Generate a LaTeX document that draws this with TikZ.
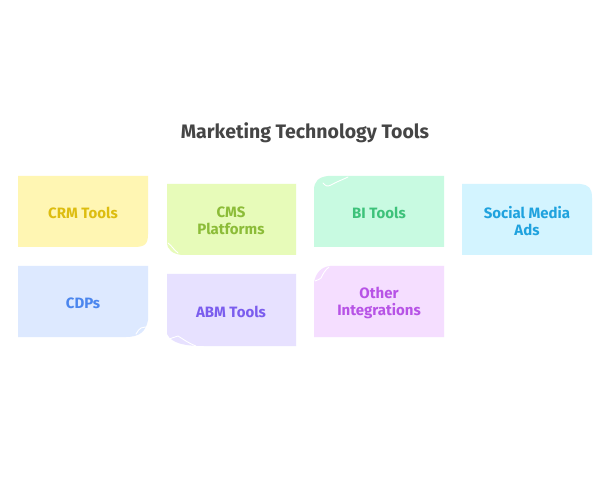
\documentclass[tikz,border=0pt]{standalone}
\usepackage{fontspec}
\setmainfont{Fira Sans}
\usetikzlibrary{positioning}
\definecolor{crmfill}{HTML}{FFF6B3}
\definecolor{crmtext}{HTML}{DDBD10}
\definecolor{cmsfill}{HTML}{E7FBB9}
\definecolor{cmstext}{HTML}{8CBC38}
\definecolor{bifill}{HTML}{C8FAE1}
\definecolor{bitext}{HTML}{3DC27A}
\definecolor{socfill}{HTML}{D3F4FF}
\definecolor{soctext}{HTML}{1FA2DE}
\definecolor{cdpfill}{HTML}{DDE9FF}
\definecolor{cdptext}{HTML}{4B86EE}
\definecolor{abmfill}{HTML}{E7E1FF}
\definecolor{abmtext}{HTML}{7B5DEE}
\definecolor{othfill}{HTML}{F5DEFF}
\definecolor{othtext}{HTML}{B753E6}
\definecolor{titletext}{HTML}{454545}
\tikzset{
  notelabel/.style={font=\bfseries\fontsize{15}{16.5}\selectfont, align=center},
  curl/.style={draw=white, line width=0.9pt, line cap=round}
}
\begin{document}
\begin{tikzpicture}[x=1pt,y=-1pt]
\useasboundingbox[fill=white] (0,0) rectangle (613,486);
% Title
\node[font=\bfseries\fontsize{19.5}{22}\selectfont, text=titletext] (title) at (305,132.5) {Marketing Technology Tools};
% Row 1: CRM Tools
\fill[crmfill] (18,176) -- (148,176) -- (148,234) .. controls (148,244) and (145,247) .. (134,247) -- (18,247) -- cycle;
\node[notelabel, text=crmtext] (crm) at (83,213) {CRM Tools};
% Row 1: CMS Platforms
\fill[cmsfill] (167,184) -- (296,184) -- (296,255) -- (182,255) .. controls (173,254) and (167,250) .. (167,242) -- cycle;
\draw[curl] (168,243) .. controls (172,246) and (173,249) .. (178,253);
\node[notelabel, text=cmstext] (cms) at (231,221) {CMS\\Platforms};
% Row 1: BI Tools
\fill[bifill] (328,176) -- (444,176) -- (444,247) -- (314,247) -- (314,190) .. controls (314,181) and (319,177) .. (328,176) -- cycle;
\draw[curl] (323,183) .. controls (326,186) and (327,187) .. (331,185) .. controls (336,182) and (342,180) .. (348,177);
\node[notelabel, text=bitext] (bi) at (379,213) {BI Tools};
% Row 1: Social Media Ads
\fill[socfill] (462,184) -- (580,184) .. controls (589,185) and (592,188) .. (592,198) -- (592,255) -- (462,255) -- cycle;
\node[notelabel, text=soctext] (social) at (527,221) {Social Media\\Ads};
% Row 2: CDPs
\fill[cdpfill] (18,266) -- (148,266) -- (148,320) .. controls (146,331) and (140,337) .. (126,337) -- (18,337) -- cycle;
\draw[curl] (136,334) .. controls (138,331) and (139,329) .. (141,328) .. controls (144,327) and (146,327) .. (148,327);
\node[notelabel, text=cdptext] (cdp) at (83,303) {CDPs};
% Row 2: ABM Tools
\fill[abmfill] (167,274) -- (296,274) -- (296,346) -- (204,346) .. controls (186,346) and (172,344) .. (167,334) -- cycle;
\draw[curl] (169,339) .. controls (172,338) and (175,337) .. (178,336) .. controls (183,339) and (188,343) .. (196,346);
\node[notelabel, text=abmtext] (abm) at (231,312) {ABM Tools};
% Row 2: Other Integrations
\fill[othfill] (330,266) -- (444,266) -- (444,337) -- (314,337) -- (314,282) .. controls (316,273) and (321,267) .. (330,266) -- cycle;
\draw[curl] (315,281) .. controls (318,280) and (320,279) .. (321,278) .. controls (323,274) and (325,270) .. (329,267);
\node[notelabel, text=othtext] (other) at (379,303) {Other\\Integrations};
\end{tikzpicture}
\end{document}
